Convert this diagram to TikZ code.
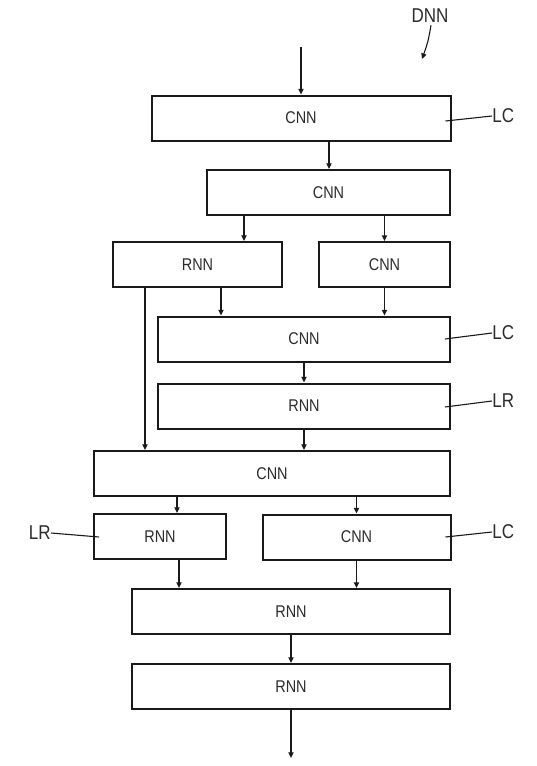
\documentclass[tikz,border=0pt]{standalone}
\usepackage{fontspec}
\setmainfont{Liberation Sans}[FakeStretch=0.85]
\usepackage{tikz}
\usetikzlibrary{arrows.meta}
\definecolor{ink}{HTML}{1A1A1A}
\definecolor{txt}{HTML}{2B2B2B}
\tikzset{
  layer/.style={draw=ink,line width=1pt,minimum width=#1,minimum height=22.5pt,inner sep=0pt,
    text=txt,font=\fontsize{8.5}{10}\selectfont},
  flow/.style={draw=ink,line width=0.55pt,-{Triangle[length=2.8pt,width=2.6pt]}},
  tag/.style={text=txt,font=\fontsize{10}{12}\selectfont,inner sep=0pt},
  lead/.style={draw=ink,line width=0.55pt}
}
\newcommand{\link}[3]{\draw[flow] (#3,0 |- #1.south) -- (#3,0 |- #2.north);}

\begin{document}
\begin{tikzpicture}[x=0.5pt,y=-0.5pt]
\useasboundingbox (0,0) rectangle (536,766);
\node[layer=149.5pt] (c1) at (301,118) {CNN};
\node[layer=121.5pt] (c2) at (328.5,192.5) {CNN};
\node[layer=84.5pt] (r3) at (197.5,264.5) {RNN};
\node[layer=65.5pt] (c3) at (384.5,264.5) {CNN};
\node[layer=146pt] (c4) at (304,339) {CNN};
\node[layer=146pt] (r5) at (304,406) {RNN};
\node[layer=178pt] (c6) at (272,473.5) {CNN};
\node[layer=66pt] (r7) at (160,536.5) {RNN};
\node[layer=94pt] (c7) at (356.5,537) {CNN};
\node[layer=159pt] (r8) at (291,611.5) {RNN};
\node[layer=159pt] (r9) at (291,686.5) {RNN};
% data flow
\coordinate (in) at (301,47); \coordinate (out) at (291,758);
\draw[flow] (in) -- (c1.north);
\link{c1}{c2}{329} \link{c2}{r3}{244} \link{c2}{c3}{384.5}
\link{r3}{c4}{221} \link{c3}{c4}{384.5} \link{r3}{c6}{145}
\link{c4}{r5}{304} \link{r5}{c6}{304}
\link{c6}{r7}{177} \link{c6}{c7}{356.5}
\link{r7}{r8}{179} \link{c7}{r8}{356.5}
\link{r8}{r9}{291}
\draw[flow] (r9.south) -- (out);
% reference signs
\node[tag] (dnn) at (430,16) {DNN};
\coordinate (dnnend) at (422,59);
\draw[flow] (dnn.south) ++(1,2) .. controls (428,42) .. (dnnend);
\node[tag,anchor=west] (lc1) at (492,116) {LC};
\node[tag,anchor=west] (lc2) at (492,333) {LC};
\node[tag,anchor=west] (lr1) at (492,401) {LR};
\node[tag,anchor=west] (lc3) at (492,532) {LC};
\node[tag,anchor=east] (lr2) at (51,533) {LR};
\draw[lead] (lc1.west) -- ([shift={(-6,3)}]c1.east);
\draw[lead] (lc2.west) -- ([shift={(-6,0)}]c4.east);
\draw[lead] (lr1.west) -- ([shift={(-6,1)}]r5.east);
\draw[lead] (lc3.west) -- ([shift={(-6,0)}]c7.east);
\draw[lead] (lr2.east) -- ([shift={(6,0.5)}]r7.west);
\end{tikzpicture}
\end{document}
